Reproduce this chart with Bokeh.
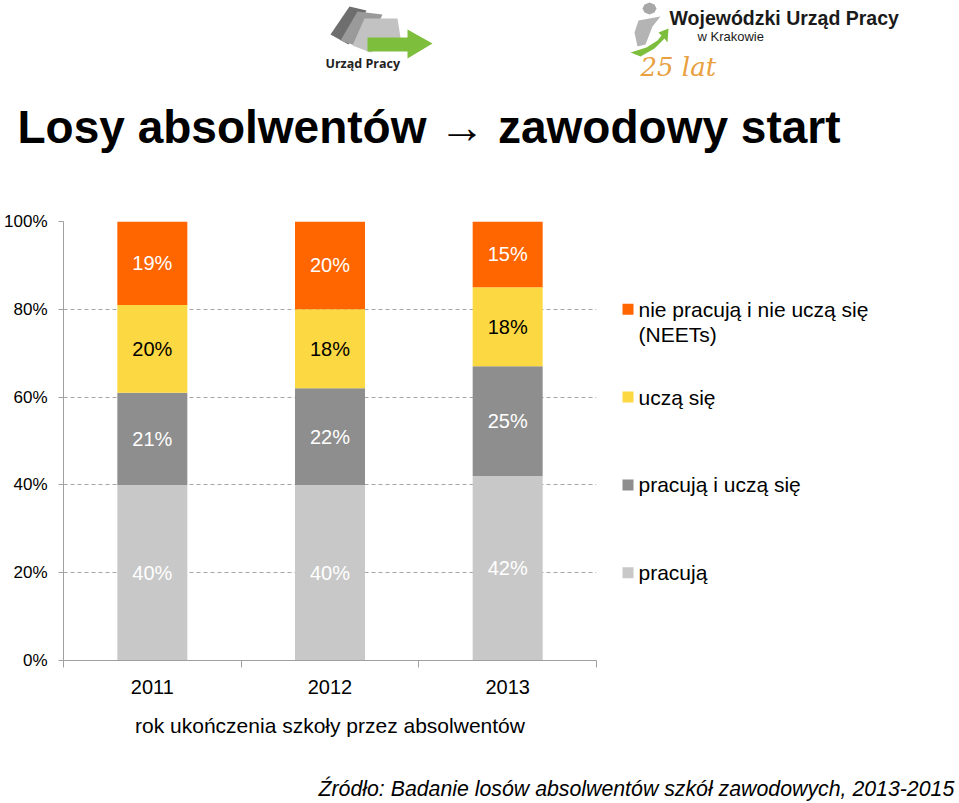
from bokeh.plotting import figure
from bokeh.layouts import column, row
from bokeh.models import ColumnDataSource, Range1d, FixedTicker, NumeralTickFormatter
from bokeh.core.properties import value
from bokeh.embed import file_html
from bokeh.resources import INLINE

# ---------------- data ----------------
years = ["2011", "2012", "2013"]
pracuja = [40, 40, 42]
pracuja_i_ucza = [21, 22, 25]
ucza = [20, 18, 18]
neets = [19, 20, 15]

series_keys = ["pracuja", "pracuja_i_ucza", "ucza", "neets"]
series_names = ["pracują", "pracują i uczą się", "uczą się", "nie pracują i nie uczą się\n(NEETs)"]
series_colors = ["#C8C8C8", "#8E8E8E", "#FCD842", "#FF6600"]
label_colors = ["#FFFFFF", "#FFFFFF", "#000000", "#FFFFFF"]
legend_levels = [0.2, 0.4, 0.6, 0.8]
y_ticks = [0, 0.2, 0.4, 0.6, 0.8, 1.0]

title_text = "Losy absolwentów → zawodowy start"
x_label = "rok ukończenia szkoły przez absolwentów"
source_text = "Źródło: Badanie losów absolwentów szkół zawodowych, 2013-2015"

FONT = "Liberation Sans"
W, H = 959, 803
TOP_H = 175          # header strip (logos + title)
MID_H = 575          # chart row
BOT_H = H - TOP_H - MID_H
CHART_W = 610
LEG_W = W - CHART_W
FL, FR, FT, FB = 63, 596, 221, 660   # chart frame edges in page px


def blank(width, height, x_range, y_range, **kw):
    f = figure(width=width, height=height, output_backend="svg", toolbar_location=None,
               x_range=x_range, y_range=y_range,
               x_axis_type=None, y_axis_type=None, **kw)
    f.outline_line_color = None
    f.background_fill_color = "white"
    f.border_fill_color = "white"
    f.xgrid.visible = False
    f.ygrid.visible = False
    return f


def txt(f, x, y, s, size, style="normal", color="#000000", font=FONT, align="left"):
    f.text(x=[x], y=[y], text=[s], text_font=value(font), text_font_size=size,
           text_font_style=style, text_color=color, text_align=align, text_baseline="middle")


# ---------------- header: logos + title ----------------
top = blank(W, TOP_H, Range1d(0, W), Range1d(TOP_H, 0), min_border=0)

logo_polys = [
    ([(330, 34), (349, 6), (366, 10), (348, 44)], "#6E6E6E"),
    ([(340, 40), (357, 11), (382, 14), (366, 49)], "#9A9A9A"),
    ([(352, 45), (364, 18), (397, 18), (400, 37), (370, 52)], "#C2C2C2"),
    ([(367, 37), (407, 37), (407, 29), (432, 43), (407, 58), (407, 51), (367, 51)], "#7DBE3C"),
    ([(649, 2), (654, 4), (656, 8), (654, 12), (649, 14), (644, 12), (642, 8), (644, 4)], "#A8A8A8"),
    ([(638, 20), (660, 16), (652, 26), (645, 44), (637, 46), (634, 32)], "#B4B4B4"),
    ([(630, 52), (646, 47), (657, 40), (661, 35), (658, 32), (668, 28), (667, 42), (664, 38),
      (654, 48), (640, 56)], "#7DBE3C"),
]
top.patches(xs=[[a for a, b in pts] for pts, c in logo_polys],
            ys=[[b for a, b in pts] for pts, c in logo_polys],
            fill_color=[c for pts, c in logo_polys], line_color=None)

txt(top, 325, 62.5, "Urząd Pracy", "12.5px", "bold", "#222222", font="Open Sans")
txt(top, 669, 17, "Wojewódzki Urząd Pracy", "19.5px", "bold", "#1A1A1A")
txt(top, 697, 35.5, "w Krakowie", "13px", "normal", "#1A1A1A")
txt(top, 640, 66, "25 lat", "26px", "italic", "#E8A040", font="DejaVu Serif")
txt(top, 17, 126, title_text, "46px", "bold")

# ---------------- chart ----------------
p = figure(width=CHART_W, height=MID_H, output_backend="svg", toolbar_location=None,
           x_range=Range1d(0, 3), y_range=Range1d(0, 1),
           min_border_left=FL, min_border_right=CHART_W - FR,
           min_border_top=FT - TOP_H, min_border_bottom=TOP_H + MID_H - FB)
p.outline_line_color = None
p.background_fill_color = "white"
p.border_fill_color = "white"

xs = [i + 0.5 for i in range(len(years))]
src = ColumnDataSource(dict(x=xs,
                            pracuja=[v / 100 for v in pracuja],
                            pracuja_i_ucza=[v / 100 for v in pracuja_i_ucza],
                            ucza=[v / 100 for v in ucza],
                            neets=[v / 100 for v in neets]))
p.vbar_stack(series_keys, x="x", width=0.394, color=series_colors,
             line_color=None, source=src)

raw = [pracuja, pracuja_i_ucza, ucza, neets]
lx, ly, lt, lc = [], [], [], []
for i, x in enumerate(xs):
    base = 0
    for k, vals in enumerate(raw):
        v = vals[i]
        lx.append(x)
        ly.append((base + v / 2) / 100)
        lt.append(f"{v}%")
        lc.append(label_colors[k])
        base += v
lsrc = ColumnDataSource(dict(x=lx, y=ly, text=lt, color=lc))
p.text(x="x", y="y", text="text", text_color="color", source=lsrc,
       text_align="center", text_baseline="middle",
       text_font=value(FONT), text_font_size="20px")

ax_col = "#A0A0A0"
yax = p.yaxis[0]
yax.ticker = FixedTicker(ticks=y_ticks)
yax.formatter = NumeralTickFormatter(format="0%")
yax.axis_line_color = ax_col
yax.major_tick_line_color = ax_col
yax.major_tick_out = 5
yax.major_tick_in = 0
yax.minor_tick_line_color = None
yax.major_label_text_font = FONT
yax.major_label_text_font_size = "17px"
yax.major_label_text_color = "#000000"
yax.major_label_standoff = 11

xax = p.xaxis[0]
xax.ticker = FixedTicker(ticks=xs, minor_ticks=[0, 1, 2, 3])
xax.major_label_overrides = {x: y for x, y in zip(xs, years)}
xax.axis_line_color = ax_col
xax.major_tick_line_color = None
xax.major_tick_out = 7
xax.major_tick_in = 0
xax.minor_tick_line_color = ax_col
xax.minor_tick_out = 7
xax.minor_tick_in = 0
xax.major_label_text_font = FONT
xax.major_label_text_font_size = "20px"
xax.major_label_text_color = "#000000"
xax.major_label_standoff = 12
xax.axis_label = x_label
xax.axis_label_text_font = FONT
xax.axis_label_text_font_size = "21px"
xax.axis_label_text_font_style = "normal"
xax.axis_label_text_color = "#000000"
xax.axis_label_standoff = 17

p.xgrid.visible = False
p.ygrid.grid_line_color = "#A6A6A6"
p.ygrid.grid_line_dash = "4 3"
p.ygrid.grid_line_width = 1

# ---------------- legend panel (same vertical scale as the chart) ----------------
leg = blank(LEG_W, MID_H, Range1d(CHART_W, W), p.y_range,
            min_border_left=0, min_border_right=0,
            min_border_top=FT - TOP_H, min_border_bottom=TOP_H + MID_H - FB)
leg.rect(x=[627.5] * 4, y=legend_levels, width=11, height=11, height_units="screen",
         fill_color=series_colors, line_color=None)
line_step = 25 / (FB - FT)
tx, ty, tt = [], [], []
for k, name in enumerate(series_names):
    for j, line in enumerate(name.split("\n")):
        tx.append(638)
        ty.append(legend_levels[k] - line_step * j)
        tt.append(line)
leg.text(x=tx, y=ty, text=tt, text_font=value(FONT), text_font_size="21px",
         text_color="#000000", text_align="left", text_baseline="middle")

# ---------------- footer: source ----------------
bot = blank(W, BOT_H, Range1d(0, W), Range1d(H, TOP_H + MID_H), min_border=0)
txt(bot, 318, 788, source_text, "21.3px", "italic")

layout = column(top, row(p, leg, spacing=0), bot, spacing=0)
open("out.html", "w").write(file_html(layout, INLINE))
